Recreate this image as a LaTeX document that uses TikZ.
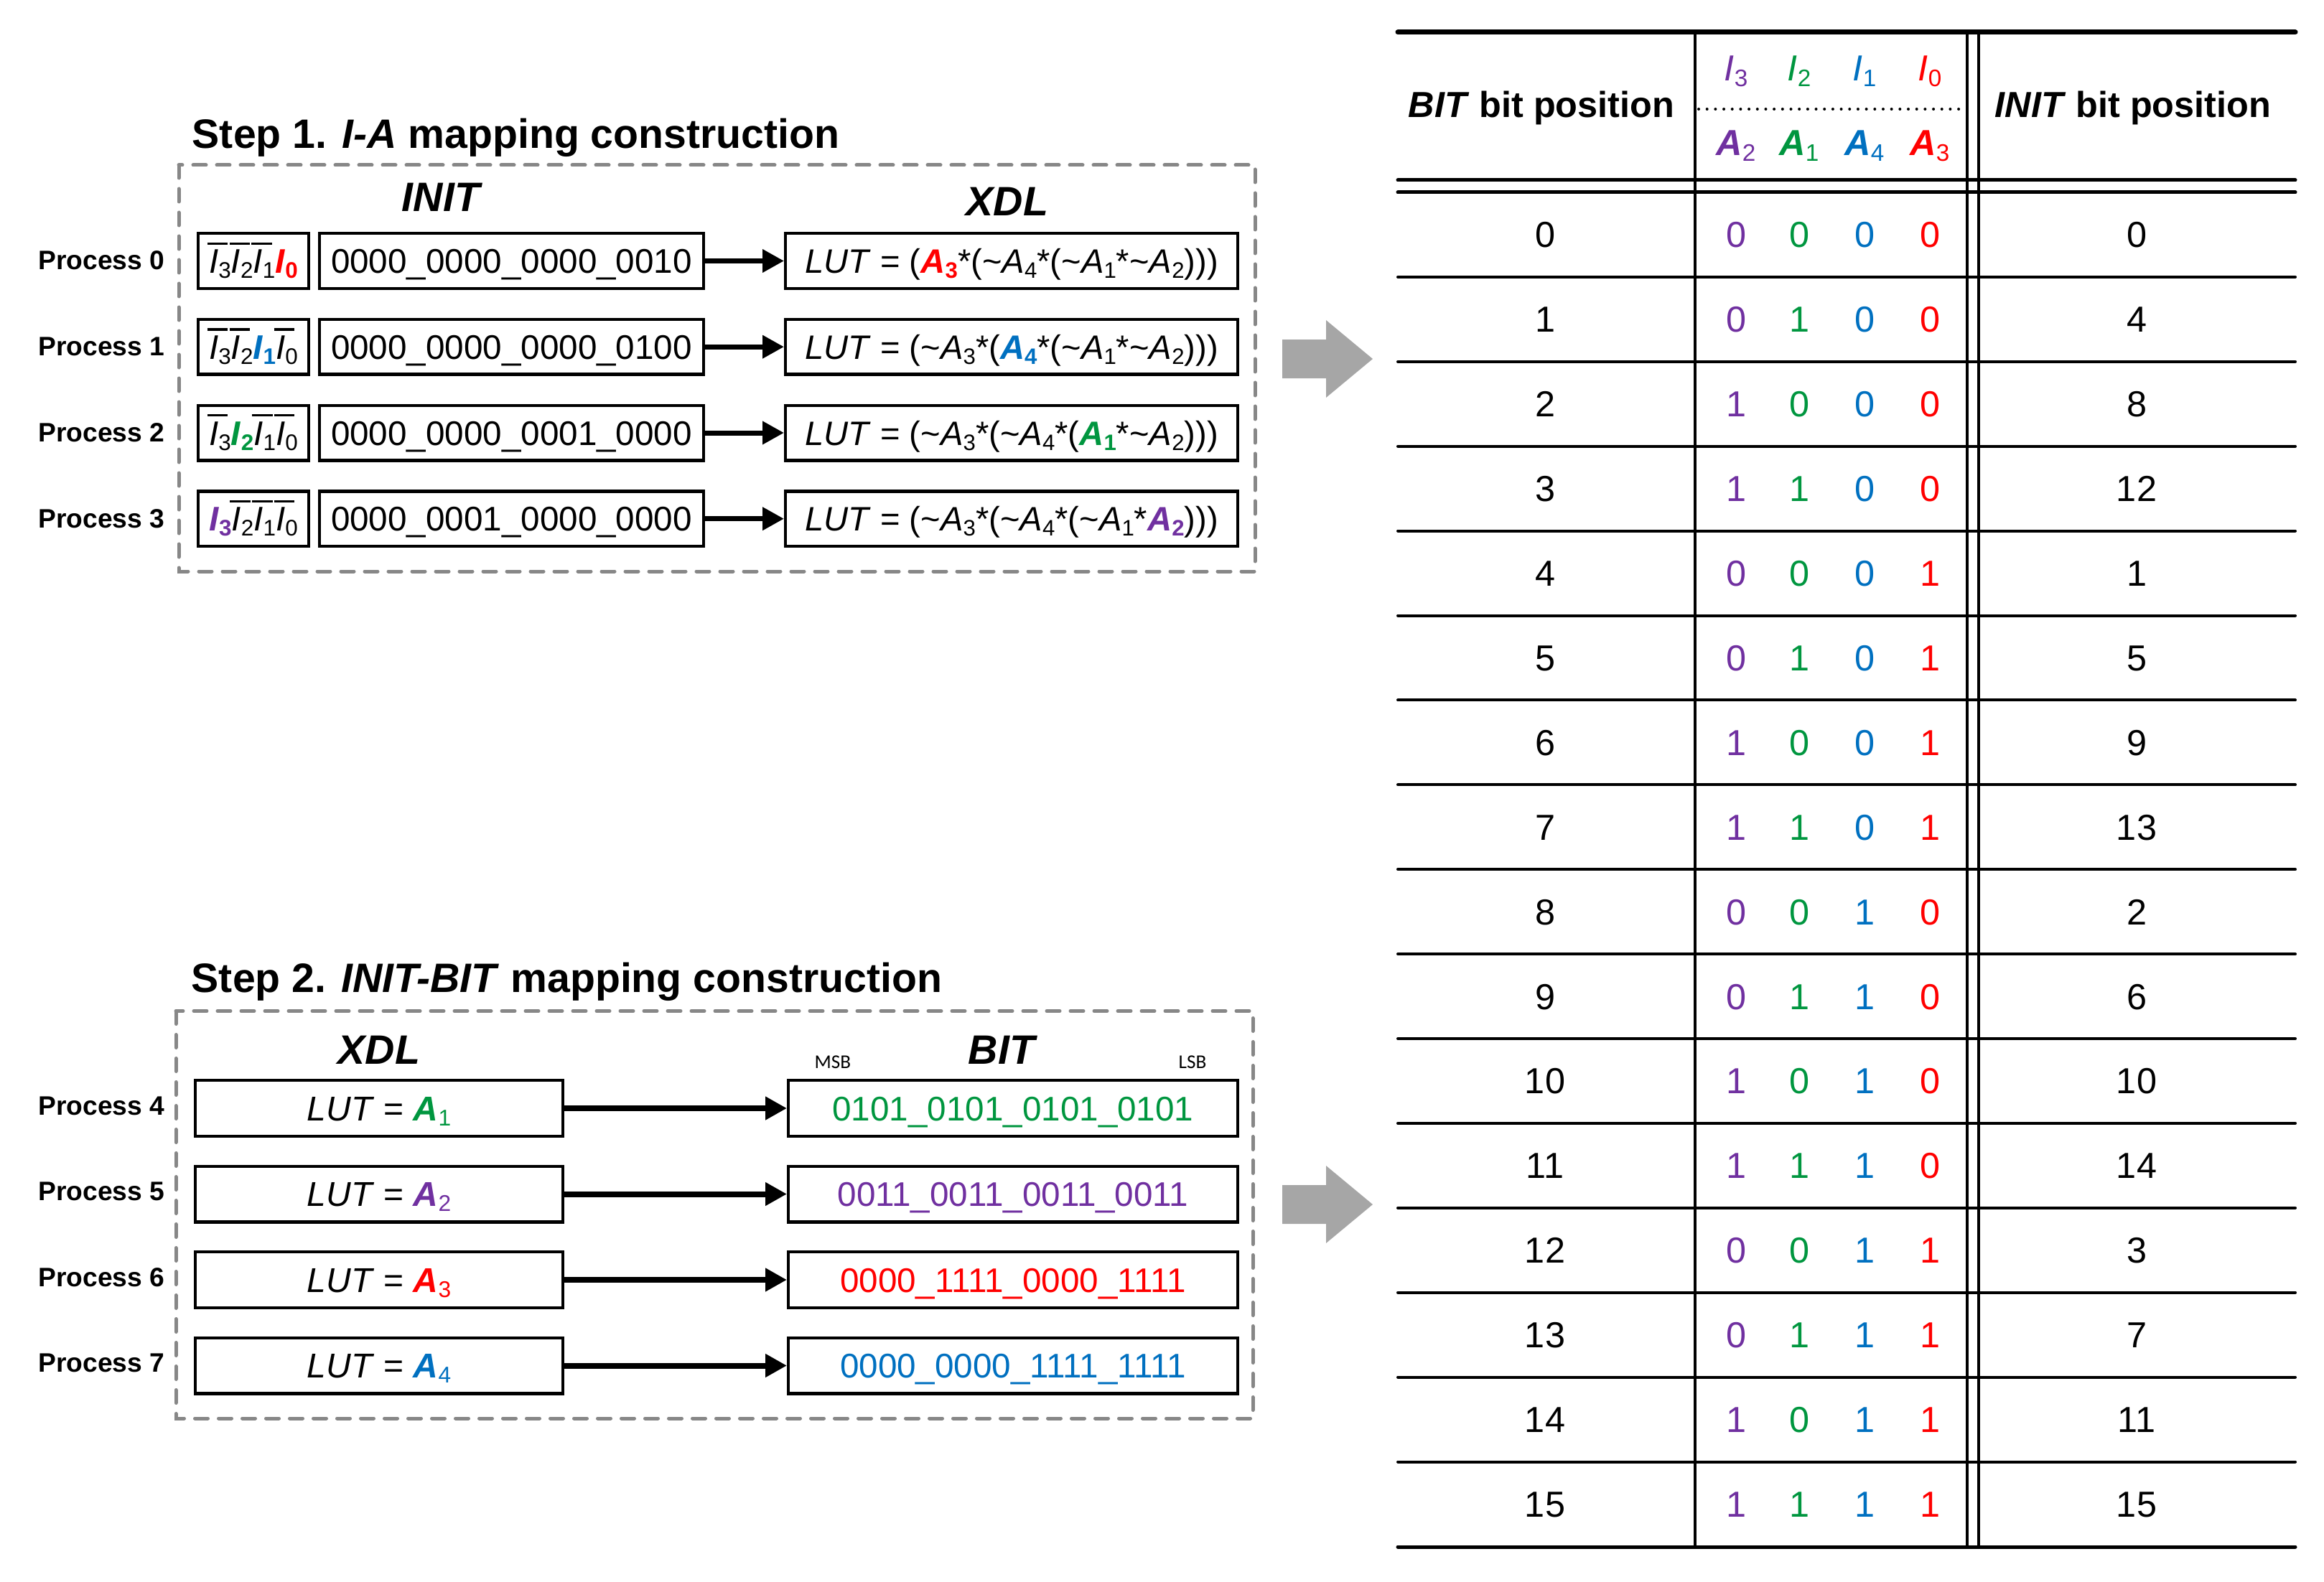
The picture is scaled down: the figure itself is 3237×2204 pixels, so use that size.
\documentclass[tikz,border=0pt]{standalone}
\usepackage{fontspec}
\setmainfont{Liberation Sans}
\newfontfamily\carl{Carlito}
\usetikzlibrary{arrows.meta}
\definecolor{cpur}{HTML}{7030A0}
\definecolor{cgrn}{HTML}{00963F}
\definecolor{cblu}{HTML}{0070C0}
\definecolor{cred}{HTML}{FF0000}
\definecolor{dgray}{HTML}{878787}
\definecolor{agray}{HTML}{A6A6A6}
\makeatletter
\newcommand\sbs[1]{\raisebox{-0.15em}{\fontsize{\fpeval{0.66*\f@size}}{1}\selectfont #1}}
\makeatother
\newcommand\myIo[1]{\makebox[0pt][l]{\hspace{-0.05em}\rule[0.83em]{0.6em}{0.07em}}\textit{I}\sbs{#1}}
\newcommand\myIb[2]{\textcolor{#1}{\textbf{\textit{I}}\sbs{\textbf{#2}}}}
\newcommand\myAv[1]{\textit{A}\sbs{#1}}
\newcommand\myAb[2]{\textcolor{#1}{\textbf{\textit{A}}\sbs{\textbf{#2}}}}
\newcommand\nt{\textasciitilde}
\newcommand\fTitle{\fontsize{14.3}{17}\selectfont}
\newcommand\fProc{\fontsize{9.3}{11}\selectfont}
\newcommand\fBox{\fontsize{11.9}{14}\selectfont}
\newcommand\fLUT{\fontsize{11.8}{14}\selectfont}
\newcommand\fLUTb{\fontsize{12}{14}\selectfont}
\newcommand\fTab{\fontsize{12.6}{15}\selectfont}
\newcommand\fSmall{\fontsize{6.8}{8}\selectfont}
\begin{document}
\begin{tikzpicture}[x=0.25pt,y=-0.25pt,
  bx/.style={draw, line width=1.1pt, inner sep=0pt, text height=8.5pt, text depth=0pt, font=\fBox},
  rowA/.style={bx, minimum height=19.15pt},
  rowB/.style={bx, minimum height=19.4pt},
  proc/.style={font=\fProc\bfseries, anchor=base east, inner sep=0pt},
  lbl/.style={font=\fTitle\bfseries\itshape, anchor=base, inner sep=0pt},
  ttl/.style={font=\fTitle\bfseries, anchor=base west, inner sep=0pt},
  conA/.style={line width=1.75pt, -{Triangle[length=7.5pt,width=7.75pt]}},
  conB/.style={line width=2pt, -{Triangle[length=7.5pt,width=7.75pt]}},
  dashbox/.style={draw=dgray, line width=1.25pt, line cap=round, dash pattern=on 4.5pt off 3.75pt},
  td/.style={font=\fTab, inner sep=0pt, text height=9pt, text depth=0pt},
  th/.style={font=\fTab, inner sep=0pt, anchor=base},
  tline/.style={line width=1pt},
  dotline/.style={line width=1pt, line cap=round, dash pattern=on 0pt off 2.92pt},
]
\useasboundingbox (0,0) rectangle (3237,2204);

% ---------- Step 1 ----------
\node[ttl] (t1) at (267,207) {Step 1. \textit{I-A} mapping construction};
\draw[dashbox] (249,230) rectangle (1748,796);
\node[lbl] (init) at (614,295) {INIT};
\node[lbl] (xdl1) at (1403,301) {XDL};

\node[rowA, minimum width=38.4pt] (ib0) at (353,363.5) {\myIo3\myIo2\myIo1\myIb{cred}{0}};
\node[rowA, minimum width=133.65pt] (iv0) at (712.5,363.5) {0000\_0000\_0000\_0010};
\node[rowA, minimum width=157.4pt, font=\fLUT] (lut0) at (1409,363.5) {\textit{LUT} = (\myAb{cred}{3}*(\nt\myAv4*(\nt\myAv1*\nt\myAv2)))};
\node[proc] (p0) at (230,376) {Process 0};
\draw[conA] (iv0) -- (lut0);

\node[rowA, minimum width=38.4pt] (ib1) at (353,483.2) {\myIo3\myIo2\myIb{cblu}{1}\myIo0};
\node[rowA, minimum width=133.65pt] (iv1) at (712.5,483.2) {0000\_0000\_0000\_0100};
\node[rowA, minimum width=157.4pt, font=\fLUT] (lut1) at (1409,483.2) {\textit{LUT} = (\nt\myAv3*(\myAb{cblu}{4}*(\nt\myAv1*\nt\myAv2)))};
\node[proc] (p1) at (230,495.7) {Process 1};
\draw[conA] (iv1) -- (lut1);

\node[rowA, minimum width=38.4pt] (ib2) at (353,603) {\myIo3\myIb{cgrn}{2}\myIo1\myIo0};
\node[rowA, minimum width=133.65pt] (iv2) at (712.5,603) {0000\_0000\_0001\_0000};
\node[rowA, minimum width=157.4pt, font=\fLUT] (lut2) at (1409,603) {\textit{LUT} = (\nt\myAv3*(\nt\myAv4*(\myAb{cgrn}{1}*\nt\myAv2)))};
\node[proc] (p2) at (230,615.5) {Process 2};
\draw[conA] (iv2) -- (lut2);

\node[rowA, minimum width=38.4pt] (ib3) at (353,722.7) {\myIb{cpur}{3}\myIo2\myIo1\myIo0};
\node[rowA, minimum width=133.65pt] (iv3) at (712.5,722.7) {0000\_0001\_0000\_0000};
\node[rowA, minimum width=157.4pt, font=\fLUT] (lut3) at (1409,722.7) {\textit{LUT} = (\nt\myAv3*(\nt\myAv4*(\nt\myAv1*\myAb{cpur}{2})))};
\node[proc] (p3) at (230,735.2) {Process 3};
\draw[conA] (iv3) -- (lut3);

% ---------- Step 2 ----------
\node[ttl] (t2) at (266,1382) {Step 2. \textit{INIT-BIT} mapping construction};
\draw[dashbox] (245,1408.5) rectangle (1745,1976);
\node[lbl] (xdl2) at (528,1482) {XDL};
\node[lbl] (bitl) at (1395,1482) {BIT};
\node[font=\carl\fSmall, anchor=base, inner sep=0pt] (msb) at (1160,1488) {MSB};
\node[font=\carl\fSmall, anchor=base, inner sep=0pt] (lsb) at (1661,1488) {LSB};

\node[rowB, minimum width=127.9pt, font=\fLUTb] (x4) at (528,1544) {\textit{LUT} = \textcolor{cgrn}{\textbf{\textit{A}}\sbs{1}}};
\node[rowB, minimum width=156.4pt, text=cgrn] (b4) at (1411,1544) {0101\_0101\_0101\_0101};
\node[proc] (p4) at (230,1553) {Process 4};
\draw[conB] (x4) -- (b4);

\node[rowB, minimum width=127.9pt, font=\fLUTb] (x5) at (528,1663.5) {\textit{LUT} = \textcolor{cpur}{\textbf{\textit{A}}\sbs{2}}};
\node[rowB, minimum width=156.4pt, text=cpur] (b5) at (1411,1663.5) {0011\_0011\_0011\_0011};
\node[proc] (p5) at (230,1672.5) {Process 5};
\draw[conB] (x5) -- (b5);

\node[rowB, minimum width=127.9pt, font=\fLUTb] (x6) at (528,1783) {\textit{LUT} = \textcolor{cred}{\textbf{\textit{A}}\sbs{3}}};
\node[rowB, minimum width=156.4pt, text=cred] (b6) at (1411,1783) {0000\_1111\_0000\_1111};
\node[proc] (p6) at (230,1792) {Process 6};
\draw[conB] (x6) -- (b6);

\node[rowB, minimum width=127.9pt, font=\fLUTb] (x7) at (528,1902.5) {\textit{LUT} = \textcolor{cblu}{\textbf{\textit{A}}\sbs{4}}};
\node[rowB, minimum width=156.4pt, text=cblu] (b7) at (1411,1902.5) {0000\_0000\_1111\_1111};
\node[proc] (p7) at (230,1911.5) {Process 7};
\draw[conB] (x7) -- (b7);

% ---------- gray arrows ----------
\foreach \dy in {0,1178}{
  \fill[agray] (1786,{473+\dy}) -- (1847,{473+\dy}) -- (1847,{446+\dy}) -- (1912,{500+\dy})
    -- (1847,{554+\dy}) -- (1847,{527+\dy}) -- (1786,{527+\dy}) -- cycle;
}

% ---------- table ----------
\draw[line width=1.75pt, line cap=round] (1947,45) -- (3197,45);
\draw[line width=1.25pt, line cap=round] (1947,251) -- (3197,251);
\draw[line width=1.25pt, line cap=round] (1947,268) -- (3197,268);
\foreach \k in {1,...,15}{
  \draw[tline, line cap=round] (1947,{268+117.9*\k}) -- (3197,{268+117.9*\k});
}
\draw[line width=1.25pt, line cap=round] (1947,2155) -- (3197,2155);
\draw[tline] (2361,45) -- (2361,2155);
\draw[tline] (2740,45) -- (2740,2155);
\draw[tline] (2756,45) -- (2756,2155);
\draw[dotline] (2366,152) -- (2736,152);

\node[th, font=\fTab\bfseries] (hbit) at (2147,164) {\textit{BIT} bit position};
\node[th, font=\fTab\bfseries] (hinit) at (2971,164) {\textit{INIT} bit position};
\node[th, text=cpur] (hi3) at (2418,113) {\textit{I}\sbs{3}};
\node[th, text=cgrn] (hi2) at (2506,113) {\textit{I}\sbs{2}};
\node[th, text=cblu] (hi1) at (2597,113) {\textit{I}\sbs{1}};
\node[th, text=cred] (hi0) at (2688,113) {\textit{I}\sbs{0}};
\node[th, text=cpur] (ha2) at (2418,217) {\textbf{\textit{A}}\sbs{2}};
\node[th, text=cgrn] (ha1) at (2506,217) {\textbf{\textit{A}}\sbs{1}};
\node[th, text=cblu] (ha4) at (2597,217) {\textbf{\textit{A}}\sbs{4}};
\node[th, text=cred] (ha3) at (2688,217) {\textbf{\textit{A}}\sbs{3}};

\foreach \r/\a/\b/\c/\d/\n in {0/0/0/0/0/0, 1/0/1/0/0/4, 2/1/0/0/0/8, 3/1/1/0/0/12,
  4/0/0/0/1/1, 5/0/1/0/1/5, 6/1/0/0/1/9, 7/1/1/0/1/13, 8/0/0/1/0/2, 9/0/1/1/0/6,
  10/1/0/1/0/10, 11/1/1/1/0/14, 12/0/0/1/1/3, 13/0/1/1/1/7, 14/1/0/1/1/11, 15/1/1/1/1/15}{
  \node[td] (bit\r) at (2152,{268+117.9*(\r+0.5)}) {\r};
  \node[td, text=cpur] (va\r) at (2418,{268+117.9*(\r+0.5)}) {\a};
  \node[td, text=cgrn] (vb\r) at (2506,{268+117.9*(\r+0.5)}) {\b};
  \node[td, text=cblu] (vc\r) at (2597,{268+117.9*(\r+0.5)}) {\c};
  \node[td, text=cred] (vd\r) at (2688,{268+117.9*(\r+0.5)}) {\d};
  \node[td] (ini\r) at (2976,{268+117.9*(\r+0.5)}) {\n};
}
\end{tikzpicture}
\end{document}
